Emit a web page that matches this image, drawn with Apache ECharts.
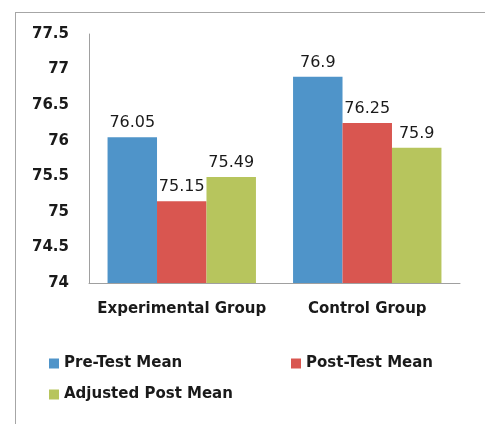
<!DOCTYPE html>
<html>
<head>
<meta charset="utf-8">
<script src="https://cdn.jsdelivr.net/npm/echarts@6/dist/echarts.min.js"></script>
<style>
  html, body { margin: 0; padding: 0; background: #fff; overflow: hidden; }
  #wrap { position: relative; width: 485px; height: 424px; overflow: hidden; }
  #frame {
    position: absolute; left: 15px; top: 12px; width: 1000px; height: 1000px;
    border-top: 1px solid #a6a6a6; border-left: 1px solid #a6a6a6;
  }
  #chart { position: absolute; left: 0; top: 0; width: 485px; height: 424px; }
</style>
</head>
<body>
<div id="wrap">
  <div id="frame"></div>
  <div id="chart"></div>
</div>
<script>
  const categories = ['Experimental Group', 'Control Group'];
  const seriesNames = ['Pre-Test Mean', 'Post-Test Mean', 'Adjusted Post Mean'];
  const preTest = [76.05, 76.9];
  const postTest = [75.15, 76.25];
  const adjustedPost = [75.49, 75.9];
  const colors = ['#4f94c9', '#d95650', '#b7c55d'];

  const font = 'DejaVu Sans';
  const textColor = '#1a1a1a';

  const myChart = echarts.init(document.getElementById('chart'));

  const barSeries = (name, data, color) => ({
    name,
    type: 'bar',
    data,
    barGap: '0%',
    barCategoryGap: '20%',
    itemStyle: {color},
    label: {
      show: true,
      position: 'top',
      distance: 6,
      color: textColor,
      fontFamily: font,
      fontSize: 16,
      formatter: p => String(p.value)
    }
  });

  const legendItem = (name, left, top) => ({
    data: [name],
    left,
    top,
    padding: 0,
    icon: 'rect',
    itemWidth: 10,
    itemHeight: 10,
    itemGap: 0,
    itemTextGap: 8,
    textStyle: {color: textColor, fontFamily: font, fontSize: 15, fontWeight: 'bold'}
  });

  myChart.setOption({
    animation: false,
    color: colors,
    grid: {left: 89, right: 25, top: 34, bottom: 141},
    legend: [
      legendItem(seriesNames[0], 49, 356),
      legendItem(seriesNames[1], 291, 356),
      legendItem(seriesNames[2], 49, 387)
    ],
    xAxis: {
      type: 'category',
      data: categories,
      axisLine: {lineStyle: {color: '#a0a0a0'}},
      axisTick: {show: false},
      axisLabel: {
        interval: 0,
        color: textColor,
        fontFamily: font,
        fontSize: 15,
        fontWeight: 'bold',
        margin: 19
      }
    },
    yAxis: {
      type: 'value',
      min: 74,
      max: 77.5,
      interval: 0.5,
      splitLine: {show: false},
      axisLine: {show: true, lineStyle: {color: '#a0a0a0'}},
      axisTick: {show: false},
      axisLabel: {
        color: textColor,
        fontFamily: font,
        fontSize: 15,
        fontWeight: 'bold',
        margin: 20
      }
    },
    series: [
      barSeries(seriesNames[0], preTest, colors[0]),
      barSeries(seriesNames[1], postTest, colors[1]),
      barSeries(seriesNames[2], adjustedPost, colors[2])
    ]
  });
</script>
</body>
</html>
